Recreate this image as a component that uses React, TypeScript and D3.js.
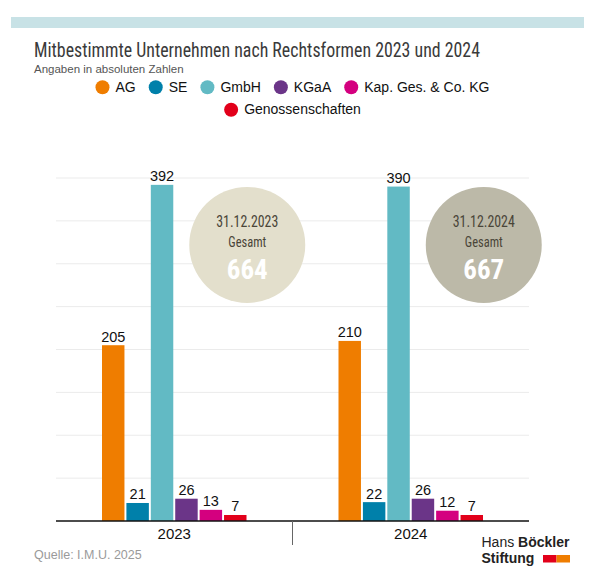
import { useEffect, useRef } from "react";
import * as d3 from "d3";

const years = ["2023", "2024"];
const series = ["AG", "SE", "GmbH", "KGaA", "Kap. Ges. & Co. KG", "Genossenschaften"];
const seriesColors = ["#ef7d00", "#0080aa", "#62bac4", "#6b3588", "#d4007f", "#e2001a"];
const values2023 = [205, 21, 392, 26, 13, 7];
const values2024 = [210, 22, 390, 26, 12, 7];
const totals = [664, 667];
const totalDates = ["31.12.2023", "31.12.2024"];
const totalColors = ["#e3dfcc", "#bcb9a8"];
const gridTicks = [50, 100, 150, 200, 250, 300, 350, 400];

const W = 605;
const H = 573;
const NARROW = "'Liberation Sans Narrow', 'Roboto Condensed', 'DejaVu Sans Condensed', 'Liberation Sans', sans-serif";
const SANS = "'Liberation Sans', Arial, sans-serif";

const App = () => {
  const ref = useRef(null);

  useEffect(() => {
    const svg = d3.select(ref.current);
    svg.selectAll("*").remove();

    const data = years.map((yr, i) => ({
      year: yr,
      values: (i === 0 ? values2023 : values2024).map((v, j) => ({ key: series[j], value: v })),
      total: totals[i],
      date: totalDates[i],
      circle: totalColors[i],
    }));

    const color = d3.scaleOrdinal<string, string>().domain(series).range(seriesColors);

    const margin = { left: 56, right: W - 529, top: 178, bottom: H - 521 };
    const x0 = d3.scaleBand().domain(years).range([margin.left, W - margin.right]).padding(0);
    const groupWidth = 144.5;
    const x1 = d3
      .scaleBand()
      .domain(series)
      .range([-groupWidth / 2, groupWidth / 2])
      .paddingInner(0.08);
    const y = d3.scaleLinear().domain([0, 400]).range([H - margin.bottom, margin.top]);

    // top band
    svg.append("rect").attr("x", 11).attr("y", 17).attr("width", 573).attr("height", 11).attr("fill", "#c8e2e6");

    // title
    svg
      .append("text")
      .attr("x", 34)
      .attr("y", 56.5)
      .attr("font-family", NARROW)
      .attr("font-size", 20)
      .attr("fill", "#3a3a3a")
      .attr("textLength", 446)
      .attr("lengthAdjust", "spacingAndGlyphs")
      .text("Mitbestimmte Unternehmen nach Rechtsformen 2023 und 2024");

    svg
      .append("text")
      .attr("x", 34)
      .attr("y", 72.5)
      .attr("font-family", SANS)
      .attr("font-size", 11.5)
      .attr("fill", "#555")
      .text("Angaben in absoluten Zahlen");

    // legend (wrapped + centered)
    const center = (x0.range()[0] + x0.range()[1]) / 2;
    const legend = svg.append("g");
    const items = series.map((s) => {
      const g = legend.append("g");
      g.append("circle").attr("cx", 7).attr("cy", -4.5).attr("r", 7).attr("fill", color(s));
      const t = g
        .append("text")
        .attr("x", 20)
        .attr("font-family", SANS)
        .attr("font-size", 14)
        .attr("fill", "#111")
        .text(s);
      const w = 20 + (t.node() as SVGTextElement).getComputedTextLength();
      return { g, w };
    });
    const gap = 13;
    const maxRow = 400;
    const rows: { g: any; w: number }[][] = [[]];
    let rowW = 0;
    items.forEach((it) => {
      const add = rows[rows.length - 1].length ? gap + it.w : it.w;
      if (rowW + add > maxRow && rows[rows.length - 1].length) {
        rows.push([it]);
        rowW = it.w;
      } else {
        rows[rows.length - 1].push(it);
        rowW += add;
      }
    });
    rows.forEach((row, ri) => {
      const total = d3.sum(row, (d) => d.w) + gap * (row.length - 1);
      let cx = center - total / 2;
      row.forEach((it) => {
        it.g.attr("transform", `translate(${cx},${91.7 + ri * 22.6})`);
        cx += it.w + gap;
      });
    });

    // gridlines
    svg
      .append("g")
      .selectAll("line")
      .data(gridTicks)
      .join("line")
      .attr("x1", x0.range()[0])
      .attr("x2", x0.range()[1])
      .attr("y1", (d) => y(d))
      .attr("y2", (d) => y(d))
      .attr("stroke", "#ebebeb")
      .attr("stroke-width", 1);

    // total circles
    const circ = svg
      .append("g")
      .selectAll("g")
      .data(data)
      .join("g")
      .attr("transform", (d) => `translate(${x0(d.year)! + x0.bandwidth() / 2 + 73},${y(322)})`);
    circ.append("circle").attr("r", 58).attr("fill", (d) => d.circle);
    circ
      .append("text")
      .attr("y", -17.5)
      .attr("text-anchor", "middle")
      .attr("font-family", NARROW)
      .attr("font-size", 17)
      .attr("fill", "#4a4538")
      .attr("textLength", 62)
      .attr("lengthAdjust", "spacingAndGlyphs")
      .text((d) => d.date);
    circ
      .append("text")
      .attr("y", 2.5)
      .attr("text-anchor", "middle")
      .attr("font-family", NARROW)
      .attr("font-size", 15)
      .attr("fill", "#4a4538")
      .attr("textLength", 38)
      .attr("lengthAdjust", "spacingAndGlyphs")
      .text("Gesamt");
    circ
      .append("text")
      .attr("y", 34.5)
      .attr("text-anchor", "middle")
      .attr("font-family", NARROW)
      .attr("font-size", 28)
      .attr("font-weight", "bold")
      .attr("fill", "#ffffff")
      .attr("textLength", 41)
      .attr("lengthAdjust", "spacingAndGlyphs")
      .text((d) => d.total);

    // bars
    const groups = svg
      .append("g")
      .selectAll("g")
      .data(data)
      .join("g")
      .attr("transform", (d) => `translate(${x0(d.year)! + x0.bandwidth() / 2},0)`);

    groups
      .selectAll("rect")
      .data((d) => d.values)
      .join("rect")
      .attr("x", (d) => x1(d.key)!)
      .attr("y", (d) => y(d.value))
      .attr("width", x1.bandwidth())
      .attr("height", (d) => y(0) - y(d.value))
      .attr("fill", (d) => color(d.key));

    groups
      .selectAll("text")
      .data((d) => d.values)
      .join("text")
      .attr("x", (d) => x1(d.key)! + x1.bandwidth() / 2)
      .attr("y", (d) => y(d.value) - 3.5)
      .attr("text-anchor", "middle")
      .attr("font-family", SANS)
      .attr("font-size", 14.5)
      .attr("fill", "#111")
      .text((d) => d.value);

    // baseline + year axis
    svg
      .append("line")
      .attr("x1", x0.range()[0])
      .attr("x2", x0.range()[1])
      .attr("y1", y(0))
      .attr("y2", y(0))
      .attr("stroke", "#111")
      .attr("stroke-width", 1.5);

    svg
      .append("line")
      .attr("x1", x0(years[1])!)
      .attr("x2", x0(years[1])!)
      .attr("y1", y(0))
      .attr("y2", y(0) + 24)
      .attr("stroke", "#666")
      .attr("stroke-width", 1);

    svg
      .append("g")
      .selectAll("text")
      .data(years)
      .join("text")
      .attr("x", (d) => x0(d)! + x0.bandwidth() / 2)
      .attr("y", y(0) + 17.5)
      .attr("text-anchor", "middle")
      .attr("font-family", SANS)
      .attr("font-size", 15)
      .attr("fill", "#111")
      .text((d) => d);

    // source
    svg
      .append("text")
      .attr("x", 34)
      .attr("y", 559)
      .attr("font-family", SANS)
      .attr("font-size", 12.5)
      .attr("fill", "#9a9a9a")
      .text("Quelle: I.M.U. 2025");

    // logo
    const logo = svg.append("g");
    const t1 = logo
      .append("text")
      .attr("x", 481.5)
      .attr("y", 547)
      .attr("font-family", SANS)
      .attr("font-size", 14)
      .attr("fill", "#222");
    t1.append("tspan").text("Hans ");
    t1.append("tspan").attr("font-weight", "bold").text("Böckler");
    logo
      .append("text")
      .attr("x", 481.5)
      .attr("y", 563)
      .attr("font-family", SANS)
      .attr("font-size", 14)
      .attr("font-weight", "bold")
      .attr("fill", "#222")
      .text("Stiftung");
    logo.append("rect").attr("x", 543).attr("y", 555).attr("width", 13.5).attr("height", 7.5).attr("fill", "#e2001a");
    logo.append("rect").attr("x", 556.5).attr("y", 555).attr("width", 13.5).attr("height", 7.5).attr("fill", "#ef7d00");
  }, []);

  return (
    <svg
      ref={ref}
      width={W}
      height={H}
      style={{ position: "absolute", left: 0, top: 0, background: "#fff" }}
    ></svg>
  );
};

export default App;
